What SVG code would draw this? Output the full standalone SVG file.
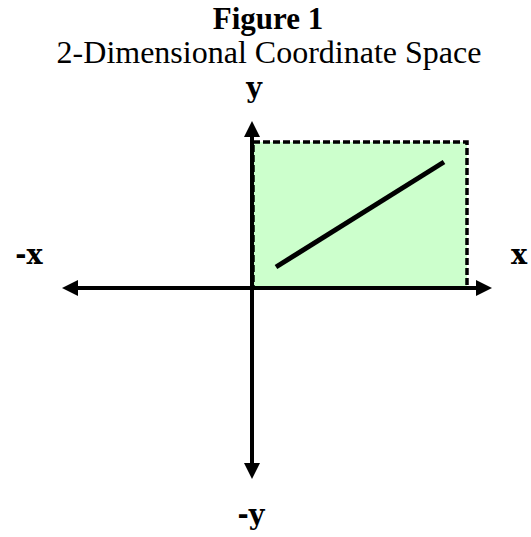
<svg xmlns="http://www.w3.org/2000/svg" width="531" height="537" viewBox="0 0 531 537">
<style>
.t{font-family:"Liberation Serif","Times New Roman",serif;fill:#000;text-anchor:middle}
.b{font-weight:bold}
.lb{font-family:"DejaVu Serif","Liberation Serif",serif;font-weight:bold;font-size:27px;fill:#000;text-anchor:middle}
.ax{stroke:#000;stroke-width:4;fill:none}
.ah{fill:#000;stroke:none}
</style>
<rect width="531" height="537" fill="#fff"/>
<g id="title">
<text class="t b" x="268" y="29" font-size="31">Figure 1</text>
<text class="t" x="269" y="63" font-size="32">2-Dimensional Coordinate Space</text>
</g>
<g id="region">
<rect x="253" y="142" width="214" height="146" fill="#ccffcc" stroke="#000" stroke-width="3.5" stroke-dasharray="7,3"/>
</g>
<g id="segment">
<line x1="276" y1="267" x2="444" y2="162" stroke="#000" stroke-width="5"/>
</g>
<g id="connectors">
<line class="ax" x1="252" y1="134" x2="252" y2="466"/>
<line class="ax" x1="75" y1="288" x2="479" y2="288"/>
<polygon class="ah" points="252,121 244,137 260,137"/>
<polygon class="ah" points="252,479 244,463 260,463"/>
<polygon class="ah" points="62,288 78,280 78,296"/>
<polygon class="ah" points="492,288 476,280 476,296"/>
</g>
<g id="labels">
<text class="lb" x="254" y="97">y</text>
<text class="lb" x="251" y="524">-y</text>
<text class="lb" x="29" y="264">-x</text>
<text class="lb" x="519" y="264">x</text>
</g>
</svg>
